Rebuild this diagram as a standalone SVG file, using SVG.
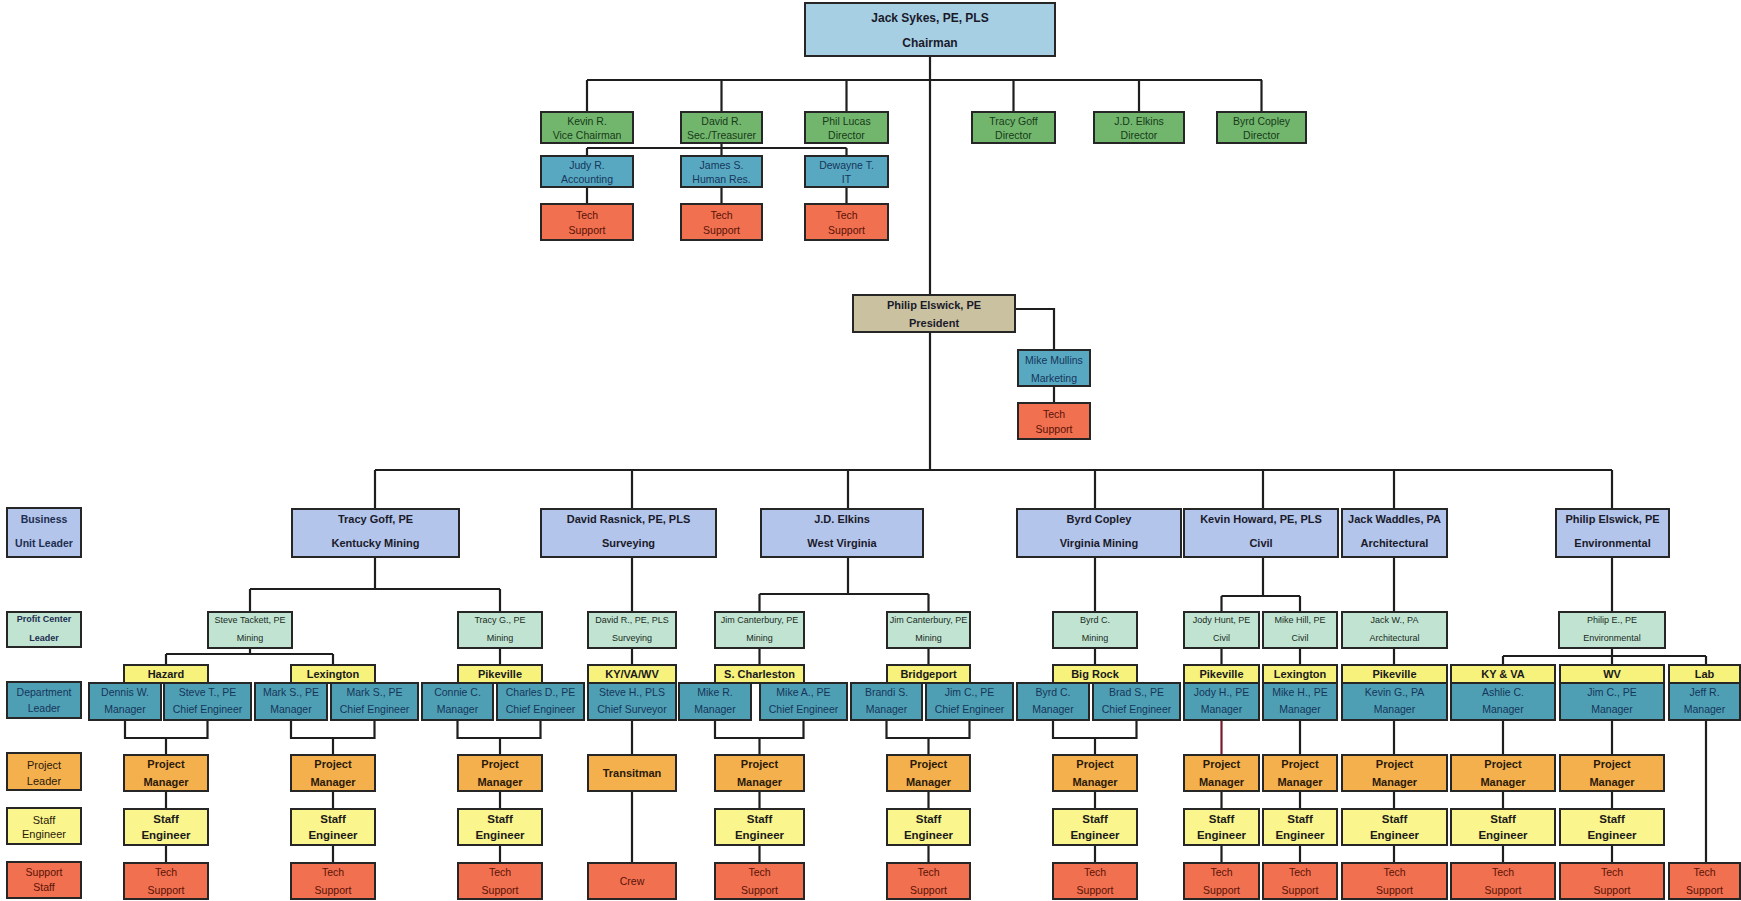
<svg xmlns="http://www.w3.org/2000/svg" width="1741" height="901" viewBox="0 0 1741 901">
<style>
rect{stroke:#262626;stroke-width:2}
.ch{fill:#a6cfe4}.pr{fill:#c9c19f}.dir{fill:#72b66e}.tl{fill:#58a8c2}.ts{fill:#f0704f}
.bu{fill:#b3c5ea}.pc{fill:#c1e4d2}.loc{fill:#f7f27c}.dp{fill:#4f9fb4}.pm{fill:#f5b04e}.se{fill:#faf58c}
text{font-family:"Liberation Sans",Arial,sans-serif;text-anchor:middle}
.tb{font-size:12px;font-weight:bold;fill:#1a1a2a}
.tbu{font-size:11px;font-weight:bold;fill:#1a1a2a}
.tdir{font-size:10.5px;fill:#173a17}
.ttl{font-size:10.5px;fill:#16365a}
.tts{font-size:10.5px;fill:#5a1208}
.tpc{font-size:9px;fill:#1a2a22}
.tloc{font-size:11px;font-weight:bold;fill:#1a1a1a}
.tdp{font-size:10.5px;fill:#15365a}
.tpm{font-size:11px;font-weight:bold;fill:#2a1a0a}
.tse{font-size:11.5px;font-weight:bold;fill:#1a1a1a}
.tlg{font-size:10.5px;font-weight:bold;fill:#1d2d50}
.c{fill:none;stroke:#1e1e1e;stroke-width:2.2}
</style>
<g id="connectors" class="c">
<path d="M930 56V295M587 80H1262M587 80V112M721.5 80V112M846.5 80V112M1013.5 80V112M1139 80V112M1261.5 80V112"/>
<path d="M721.5 143V148M587 148H846.5M587 148V156M721.5 148V156M846.5 148V156M587 187V204M721.5 187V204M846.5 187V204"/>
<path d="M1015 309H1054V350M1054 386V403"/>
<path d="M930 332V470M375 470H1612M375 470V509M632 470V509M848 470V509M1095 470V509M1263 470V509M1394 470V509M1612 470V509"/>
<path d="M375 557V589M250 589H500M250 589V612M500 589V612M250 648V654M166 654H333M166 654V665M333 654V665M500 648V665"/>
<path d="M125 720V738H207.5V720M166 738V755M291 720V738H374.5V720M333 738V755M457.5 720V738H540.5V720M500 738V755"/>
<path d="M166 791V809M166 845V863M333 791V809M333 845V863M500 791V809M500 845V863"/>
<path d="M632 557V612M632 648V665M632 720V755M632 791V863"/>
<path d="M848 557V594M759.5 594H928.5M759.5 594V612M928.5 594V612M759.5 648V665M928.5 648V665"/>
<path d="M715 720V738H803.5V720M759.5 738V755M886.5 720V738H969.5V720M928.5 738V755"/>
<path d="M759.5 791V809M759.5 845V863M928.5 791V809M928.5 845V863"/>
<path d="M1095 557V612M1095 648V665M1053 720V738H1136.5V720M1095 738V755M1095 791V809M1095 845V863"/>
<path d="M1263 557V596M1221.5 596H1300M1221.5 596V612M1300 596V612M1221.5 648V665M1300 648V665M1300 720V755"/>
<path d="M1221.5 720V755" stroke="#7a1a2a"/>
<path d="M1221.5 791V809M1221.5 845V863M1300 791V809M1300 845V863"/>
<path d="M1394 557V612M1394 648V665M1394 720V755M1394 791V809M1394 845V863"/>
<path d="M1612 557V612M1612 648V656M1503 656H1706M1503 656V665M1612 656V665M1706 656V665M1503 720V755M1612 720V755M1706 720V863"/>
<path d="M1503 791V809M1503 845V863M1612 791V809M1612 845V863"/>
</g>

<g id="chairman"><rect class="ch" x="805" y="3" width="250" height="53"/><text class="tb" x="930" y="22">Jack Sykes, PE, PLS</text><text class="tb" x="930" y="47">Chairman</text></g>
<g id="kevin-r"><rect class="dir" x="541" y="112" width="92" height="31"/><text class="tdir" x="587" y="125">Kevin R.</text><text class="tdir" x="587" y="139">Vice Chairman</text></g>
<g id="david-r"><rect class="dir" x="681" y="112" width="81" height="31"/><text class="tdir" x="721.5" y="125">David R.</text><text class="tdir" x="721.5" y="139">Sec./Treasurer</text></g>
<g id="phil-lucas"><rect class="dir" x="805" y="112" width="83" height="31"/><text class="tdir" x="846.5" y="125">Phil Lucas</text><text class="tdir" x="846.5" y="139">Director</text></g>
<g id="tracy-goff-dir"><rect class="dir" x="972" y="112" width="83" height="31"/><text class="tdir" x="1013.5" y="125">Tracy Goff</text><text class="tdir" x="1013.5" y="139">Director</text></g>
<g id="jd-elkins-dir"><rect class="dir" x="1094" y="112" width="90" height="31"/><text class="tdir" x="1139" y="125">J.D. Elkins</text><text class="tdir" x="1139" y="139">Director</text></g>
<g id="byrd-copley-dir"><rect class="dir" x="1217" y="112" width="89" height="31"/><text class="tdir" x="1261.5" y="125">Byrd Copley</text><text class="tdir" x="1261.5" y="139">Director</text></g>
<g id="judy-r"><rect class="tl" x="541" y="156" width="92" height="31"/><text class="ttl" x="587" y="169">Judy R.</text><text class="ttl" x="587" y="183">Accounting</text></g>
<g id="james-s"><rect class="tl" x="681" y="156" width="81" height="31"/><text class="ttl" x="721.5" y="169">James S.</text><text class="ttl" x="721.5" y="183">Human Res.</text></g>
<g id="dewayne-t"><rect class="tl" x="805" y="156" width="83" height="31"/><text class="ttl" x="846.5" y="169">Dewayne T.</text><text class="ttl" x="846.5" y="183">IT</text></g>
<g id="ts-top1"><rect class="ts" x="541" y="204" width="92" height="36"/><text class="tts" x="587" y="219">Tech</text><text class="tts" x="587" y="234">Support</text></g>
<g id="ts-top2"><rect class="ts" x="681" y="204" width="81" height="36"/><text class="tts" x="721.5" y="219">Tech</text><text class="tts" x="721.5" y="234">Support</text></g>
<g id="ts-top3"><rect class="ts" x="805" y="204" width="83" height="36"/><text class="tts" x="846.5" y="219">Tech</text><text class="tts" x="846.5" y="234">Support</text></g>

<g id="president"><rect class="pr" x="853" y="295" width="162" height="37"/><text class="tbu" x="934" y="309" fill="#2a2a1a">Philip Elswick, PE</text><text class="tbu" x="934" y="327">President</text></g>
<g id="mike-mullins"><rect class="tl" x="1018" y="350" width="72" height="36"/><text class="ttl" x="1054" y="364">Mike Mullins</text><text class="ttl" x="1054" y="382">Marketing</text></g>
<g id="ts-marketing"><rect class="ts" x="1018" y="403" width="72" height="36"/><text class="tts" x="1054" y="418">Tech</text><text class="tts" x="1054" y="433">Support</text></g>

<g id="legend-bu"><rect class="bu" x="7" y="508" width="74" height="49"/><text class="tlg" x="44" y="523">Business</text><text class="tlg" x="44" y="547">Unit Leader</text></g>
<g id="legend-pc"><rect class="pc" x="7" y="612" width="74" height="35"/><text class="tlg" x="44" y="622" style="font-size:9px" fill="#1a2a22">Profit Center</text><text class="tlg" x="44" y="641" style="font-size:9px" fill="#1a2a22">Leader</text></g>
<g id="legend-dept"><rect class="dp" x="7" y="682" width="74" height="36"/><text class="tdp" x="44" y="696">Department</text><text class="tdp" x="44" y="712">Leader</text></g>
<g id="legend-pl"><rect class="pm" x="7" y="753" width="74" height="37"/><text class="tpm" x="44" y="769" style="font-weight:normal">Project</text><text class="tpm" x="44" y="785" style="font-weight:normal">Leader</text></g>
<g id="legend-se"><rect class="se" x="7" y="808" width="74" height="36"/><text class="tpm" x="44" y="824" style="font-weight:normal">Staff</text><text class="tpm" x="44" y="838" style="font-weight:normal">Engineer</text></g>
<g id="legend-ss"><rect class="ts" x="7" y="862" width="74" height="36"/><text class="tts" x="44" y="876">Support</text><text class="tts" x="44" y="891">Staff</text></g>

<g id="bu-ky"><rect class="bu" x="292" y="509" width="167" height="48"/><text class="tbu" x="375.5" y="523">Tracy Goff, PE</text><text class="tbu" x="375.5" y="547">Kentucky Mining</text></g>
<g id="bu-survey"><rect class="bu" x="541" y="509" width="175" height="48"/><text class="tbu" x="628.5" y="523">David Rasnick, PE, PLS</text><text class="tbu" x="628.5" y="547">Surveying</text></g>
<g id="bu-wv"><rect class="bu" x="761" y="509" width="162" height="48"/><text class="tbu" x="842" y="523">J.D. Elkins</text><text class="tbu" x="842" y="547">West Virginia</text></g>
<g id="bu-va"><rect class="bu" x="1017" y="509" width="164" height="48"/><text class="tbu" x="1099" y="523">Byrd Copley</text><text class="tbu" x="1099" y="547">Virginia Mining</text></g>
<g id="bu-civil"><rect class="bu" x="1184" y="509" width="154" height="48"/><text class="tbu" x="1261" y="523">Kevin Howard, PE, PLS</text><text class="tbu" x="1261" y="547">Civil</text></g>
<g id="bu-arch"><rect class="bu" x="1342" y="509" width="105" height="48"/><text class="tbu" x="1394.5" y="523">Jack Waddles, PA</text><text class="tbu" x="1394.5" y="547">Architectural</text></g>
<g id="bu-env"><rect class="bu" x="1556" y="509" width="113" height="48"/><text class="tbu" x="1612.5" y="523">Philip Elswick, PE</text><text class="tbu" x="1612.5" y="547">Environmental</text></g>

<g id="pc-steve-tackett"><rect class="pc" x="208" y="612" width="84" height="36"/><text class="tpc" x="250" y="623">Steve Tackett, PE</text><text class="tpc" x="250" y="641">Mining</text></g>
<g id="pc-tracy-g"><rect class="pc" x="458" y="612" width="84" height="36"/><text class="tpc" x="500" y="623">Tracy G., PE</text><text class="tpc" x="500" y="641">Mining</text></g>
<g id="pc-david-r"><rect class="pc" x="588" y="612" width="88" height="36"/><text class="tpc" x="632" y="623">David R., PE, PLS</text><text class="tpc" x="632" y="641">Surveying</text></g>
<g id="pc-jim-c1"><rect class="pc" x="715" y="612" width="89" height="36"/><text class="tpc" x="759.5" y="623">Jim Canterbury, PE</text><text class="tpc" x="759.5" y="641">Mining</text></g>
<g id="pc-jim-c2"><rect class="pc" x="887" y="612" width="83" height="36"/><text class="tpc" x="928.5" y="623">Jim Canterbury, PE</text><text class="tpc" x="928.5" y="641">Mining</text></g>
<g id="pc-byrd-c"><rect class="pc" x="1053" y="612" width="84" height="36"/><text class="tpc" x="1095" y="623">Byrd C.</text><text class="tpc" x="1095" y="641">Mining</text></g>
<g id="pc-jody-hunt"><rect class="pc" x="1184" y="612" width="75" height="36"/><text class="tpc" x="1221.5" y="623">Jody Hunt, PE</text><text class="tpc" x="1221.5" y="641">Civil</text></g>
<g id="pc-mike-hill"><rect class="pc" x="1263" y="612" width="74" height="36"/><text class="tpc" x="1300" y="623">Mike Hill, PE</text><text class="tpc" x="1300" y="641">Civil</text></g>
<g id="pc-jack-w"><rect class="pc" x="1342" y="612" width="105" height="36"/><text class="tpc" x="1394.5" y="623">Jack W., PA</text><text class="tpc" x="1394.5" y="641">Architectural</text></g>
<g id="pc-philip-e"><rect class="pc" x="1559" y="612" width="106" height="36"/><text class="tpc" x="1612" y="623">Philip E., PE</text><text class="tpc" x="1612" y="641">Environmental</text></g>

<g id="loc-hazard"><rect class="loc" x="124" y="665" width="84" height="18"/><text class="tloc" x="166" y="678">Hazard</text></g>
<g id="loc-lex1"><rect class="loc" x="291" y="665" width="84" height="18"/><text class="tloc" x="333" y="678">Lexington</text></g>
<g id="loc-pike1"><rect class="loc" x="458" y="665" width="84" height="18"/><text class="tloc" x="500" y="678">Pikeville</text></g>
<g id="loc-kyvawv"><rect class="loc" x="588" y="665" width="88" height="18"/><text class="tloc" x="632" y="678">KY/VA/WV</text></g>
<g id="loc-scharleston"><rect class="loc" x="715" y="665" width="89" height="18"/><text class="tloc" x="759.5" y="678">S. Charleston</text></g>
<g id="loc-bridgeport"><rect class="loc" x="887" y="665" width="83" height="18"/><text class="tloc" x="928.5" y="678">Bridgeport</text></g>
<g id="loc-bigrock"><rect class="loc" x="1053" y="665" width="84" height="18"/><text class="tloc" x="1095" y="678">Big Rock</text></g>
<g id="loc-pike2"><rect class="loc" x="1184" y="665" width="75" height="18"/><text class="tloc" x="1221.5" y="678">Pikeville</text></g>
<g id="loc-lex2"><rect class="loc" x="1263" y="665" width="74" height="18"/><text class="tloc" x="1300" y="678">Lexington</text></g>
<g id="loc-pike3"><rect class="loc" x="1342" y="665" width="105" height="18"/><text class="tloc" x="1394.5" y="678">Pikeville</text></g>
<g id="loc-kyva"><rect class="loc" x="1451" y="665" width="104" height="18"/><text class="tloc" x="1503" y="678">KY &amp; VA</text></g>
<g id="loc-wv"><rect class="loc" x="1560" y="665" width="104" height="18"/><text class="tloc" x="1612" y="678">WV</text></g>
<g id="loc-lab"><rect class="loc" x="1669" y="665" width="71" height="18"/><text class="tloc" x="1704.5" y="678">Lab</text></g>

<g id="dp-dennis"><rect class="dp" x="89" y="683" width="72" height="37"/><text class="tdp" x="125" y="696">Dennis W.</text><text class="tdp" x="125" y="713">Manager</text></g>
<g id="dp-steve-t"><rect class="dp" x="164" y="683" width="87" height="37"/><text class="tdp" x="207.5" y="696">Steve T., PE</text><text class="tdp" x="207.5" y="713">Chief Engineer</text></g>
<g id="dp-mark-s1"><rect class="dp" x="255" y="683" width="72" height="37"/><text class="tdp" x="291" y="696">Mark S., PE</text><text class="tdp" x="291" y="713">Manager</text></g>
<g id="dp-mark-s2"><rect class="dp" x="331" y="683" width="87" height="37"/><text class="tdp" x="374.5" y="696">Mark S., PE</text><text class="tdp" x="374.5" y="713">Chief Engineer</text></g>
<g id="dp-connie"><rect class="dp" x="422" y="683" width="71" height="37"/><text class="tdp" x="457.5" y="696">Connie C.</text><text class="tdp" x="457.5" y="713">Manager</text></g>
<g id="dp-charles"><rect class="dp" x="497" y="683" width="87" height="37"/><text class="tdp" x="540.5" y="696">Charles D., PE</text><text class="tdp" x="540.5" y="713">Chief Engineer</text></g>
<g id="dp-steve-h"><rect class="dp" x="588" y="683" width="88" height="37"/><text class="tdp" x="632" y="696">Steve H., PLS</text><text class="tdp" x="632" y="713">Chief Surveyor</text></g>
<g id="dp-mike-r"><rect class="dp" x="679" y="683" width="72" height="37"/><text class="tdp" x="715" y="696">Mike R.</text><text class="tdp" x="715" y="713">Manager</text></g>
<g id="dp-mike-a"><rect class="dp" x="760" y="683" width="87" height="37"/><text class="tdp" x="803.5" y="696">Mike A., PE</text><text class="tdp" x="803.5" y="713">Chief Engineer</text></g>
<g id="dp-brandi"><rect class="dp" x="851" y="683" width="71" height="37"/><text class="tdp" x="886.5" y="696">Brandi S.</text><text class="tdp" x="886.5" y="713">Manager</text></g>
<g id="dp-jim-c1"><rect class="dp" x="926" y="683" width="87" height="37"/><text class="tdp" x="969.5" y="696">Jim C., PE</text><text class="tdp" x="969.5" y="713">Chief Engineer</text></g>
<g id="dp-byrd-c"><rect class="dp" x="1017" y="683" width="72" height="37"/><text class="tdp" x="1053" y="696">Byrd C.</text><text class="tdp" x="1053" y="713">Manager</text></g>
<g id="dp-brad-s"><rect class="dp" x="1093" y="683" width="87" height="37"/><text class="tdp" x="1136.5" y="696">Brad S., PE</text><text class="tdp" x="1136.5" y="713">Chief Engineer</text></g>
<g id="dp-jody-h"><rect class="dp" x="1184" y="683" width="75" height="37"/><text class="tdp" x="1221.5" y="696">Jody H., PE</text><text class="tdp" x="1221.5" y="713">Manager</text></g>
<g id="dp-mike-h"><rect class="dp" x="1263" y="683" width="74" height="37"/><text class="tdp" x="1300" y="696">Mike H., PE</text><text class="tdp" x="1300" y="713">Manager</text></g>
<g id="dp-kevin-g"><rect class="dp" x="1342" y="683" width="105" height="37"/><text class="tdp" x="1394.5" y="696">Kevin G., PA</text><text class="tdp" x="1394.5" y="713">Manager</text></g>
<g id="dp-ashlie"><rect class="dp" x="1451" y="683" width="104" height="37"/><text class="tdp" x="1503" y="696">Ashlie C.</text><text class="tdp" x="1503" y="713">Manager</text></g>
<g id="dp-jim-c2"><rect class="dp" x="1560" y="683" width="104" height="37"/><text class="tdp" x="1612" y="696">Jim C., PE</text><text class="tdp" x="1612" y="713">Manager</text></g>
<g id="dp-jeff-r"><rect class="dp" x="1669" y="683" width="71" height="37"/><text class="tdp" x="1704.5" y="696">Jeff R.</text><text class="tdp" x="1704.5" y="713">Manager</text></g>

<g id="pm-1"><rect class="pm" x="124" y="755" width="84" height="36"/><text class="tpm" x="166" y="768">Project</text><text class="tpm" x="166" y="786">Manager</text></g>
<g id="pm-2"><rect class="pm" x="291" y="755" width="84" height="36"/><text class="tpm" x="333" y="768">Project</text><text class="tpm" x="333" y="786">Manager</text></g>
<g id="pm-3"><rect class="pm" x="458" y="755" width="84" height="36"/><text class="tpm" x="500" y="768">Project</text><text class="tpm" x="500" y="786">Manager</text></g>
<g id="transitman"><rect class="pm" x="588" y="755" width="88" height="36"/><text class="tpm" x="632" y="777">Transitman</text></g>
<g id="pm-4"><rect class="pm" x="715" y="755" width="89" height="36"/><text class="tpm" x="759.5" y="768">Project</text><text class="tpm" x="759.5" y="786">Manager</text></g>
<g id="pm-5"><rect class="pm" x="887" y="755" width="83" height="36"/><text class="tpm" x="928.5" y="768">Project</text><text class="tpm" x="928.5" y="786">Manager</text></g>
<g id="pm-6"><rect class="pm" x="1053" y="755" width="84" height="36"/><text class="tpm" x="1095" y="768">Project</text><text class="tpm" x="1095" y="786">Manager</text></g>
<g id="pm-7"><rect class="pm" x="1184" y="755" width="75" height="36"/><text class="tpm" x="1221.5" y="768">Project</text><text class="tpm" x="1221.5" y="786">Manager</text></g>
<g id="pm-8"><rect class="pm" x="1263" y="755" width="74" height="36"/><text class="tpm" x="1300" y="768">Project</text><text class="tpm" x="1300" y="786">Manager</text></g>
<g id="pm-9"><rect class="pm" x="1342" y="755" width="105" height="36"/><text class="tpm" x="1394.5" y="768">Project</text><text class="tpm" x="1394.5" y="786">Manager</text></g>
<g id="pm-10"><rect class="pm" x="1451" y="755" width="104" height="36"/><text class="tpm" x="1503" y="768">Project</text><text class="tpm" x="1503" y="786">Manager</text></g>
<g id="pm-11"><rect class="pm" x="1560" y="755" width="104" height="36"/><text class="tpm" x="1612" y="768">Project</text><text class="tpm" x="1612" y="786">Manager</text></g>

<g id="se-1"><rect class="se" x="124" y="809" width="84" height="36"/><text class="tse" x="166" y="823">Staff</text><text class="tse" x="166" y="839">Engineer</text></g>
<g id="se-2"><rect class="se" x="291" y="809" width="84" height="36"/><text class="tse" x="333" y="823">Staff</text><text class="tse" x="333" y="839">Engineer</text></g>
<g id="se-3"><rect class="se" x="458" y="809" width="84" height="36"/><text class="tse" x="500" y="823">Staff</text><text class="tse" x="500" y="839">Engineer</text></g>
<g id="se-4"><rect class="se" x="715" y="809" width="89" height="36"/><text class="tse" x="759.5" y="823">Staff</text><text class="tse" x="759.5" y="839">Engineer</text></g>
<g id="se-5"><rect class="se" x="887" y="809" width="83" height="36"/><text class="tse" x="928.5" y="823">Staff</text><text class="tse" x="928.5" y="839">Engineer</text></g>
<g id="se-6"><rect class="se" x="1053" y="809" width="84" height="36"/><text class="tse" x="1095" y="823">Staff</text><text class="tse" x="1095" y="839">Engineer</text></g>
<g id="se-7"><rect class="se" x="1184" y="809" width="75" height="36"/><text class="tse" x="1221.5" y="823">Staff</text><text class="tse" x="1221.5" y="839">Engineer</text></g>
<g id="se-8"><rect class="se" x="1263" y="809" width="74" height="36"/><text class="tse" x="1300" y="823">Staff</text><text class="tse" x="1300" y="839">Engineer</text></g>
<g id="se-9"><rect class="se" x="1342" y="809" width="105" height="36"/><text class="tse" x="1394.5" y="823">Staff</text><text class="tse" x="1394.5" y="839">Engineer</text></g>
<g id="se-10"><rect class="se" x="1451" y="809" width="104" height="36"/><text class="tse" x="1503" y="823">Staff</text><text class="tse" x="1503" y="839">Engineer</text></g>
<g id="se-11"><rect class="se" x="1560" y="809" width="104" height="36"/><text class="tse" x="1612" y="823">Staff</text><text class="tse" x="1612" y="839">Engineer</text></g>

<g id="ts-1"><rect class="ts" x="124" y="863" width="84" height="36"/><text class="tts" x="166" y="876">Tech</text><text class="tts" x="166" y="894">Support</text></g>
<g id="ts-2"><rect class="ts" x="291" y="863" width="84" height="36"/><text class="tts" x="333" y="876">Tech</text><text class="tts" x="333" y="894">Support</text></g>
<g id="ts-3"><rect class="ts" x="458" y="863" width="84" height="36"/><text class="tts" x="500" y="876">Tech</text><text class="tts" x="500" y="894">Support</text></g>
<g id="crew"><rect class="ts" x="588" y="863" width="88" height="36"/><text class="tts" x="632" y="885">Crew</text></g>
<g id="ts-4"><rect class="ts" x="715" y="863" width="89" height="36"/><text class="tts" x="759.5" y="876">Tech</text><text class="tts" x="759.5" y="894">Support</text></g>
<g id="ts-5"><rect class="ts" x="887" y="863" width="83" height="36"/><text class="tts" x="928.5" y="876">Tech</text><text class="tts" x="928.5" y="894">Support</text></g>
<g id="ts-6"><rect class="ts" x="1053" y="863" width="84" height="36"/><text class="tts" x="1095" y="876">Tech</text><text class="tts" x="1095" y="894">Support</text></g>
<g id="ts-7"><rect class="ts" x="1184" y="863" width="75" height="36"/><text class="tts" x="1221.5" y="876">Tech</text><text class="tts" x="1221.5" y="894">Support</text></g>
<g id="ts-8"><rect class="ts" x="1263" y="863" width="74" height="36"/><text class="tts" x="1300" y="876">Tech</text><text class="tts" x="1300" y="894">Support</text></g>
<g id="ts-9"><rect class="ts" x="1342" y="863" width="105" height="36"/><text class="tts" x="1394.5" y="876">Tech</text><text class="tts" x="1394.5" y="894">Support</text></g>
<g id="ts-10"><rect class="ts" x="1451" y="863" width="104" height="36"/><text class="tts" x="1503" y="876">Tech</text><text class="tts" x="1503" y="894">Support</text></g>
<g id="ts-11"><rect class="ts" x="1560" y="863" width="104" height="36"/><text class="tts" x="1612" y="876">Tech</text><text class="tts" x="1612" y="894">Support</text></g>
<g id="ts-12"><rect class="ts" x="1669" y="863" width="71" height="36"/><text class="tts" x="1704.5" y="876">Tech</text><text class="tts" x="1704.5" y="894">Support</text></g>
</svg>
